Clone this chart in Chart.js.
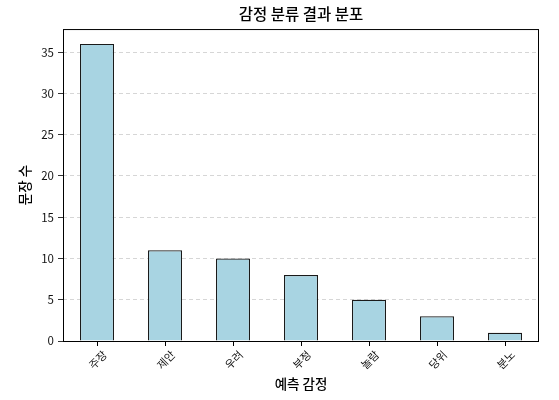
<!DOCTYPE html>
<html>
<head>
<meta charset="utf-8">
<script src="https://cdn.jsdelivr.net/npm/chart.js@4"></script>
<style>
  html, body { margin: 0; padding: 0; background: #fff; }
  #wrap { width: 559px; height: 400px; }
</style>
</head>
<body>
<div id="wrap"><canvas id="chart" width="559" height="400"></canvas></div>
<script>
// Data
const categories = ['주장', '제안', '우려', '부정', '놀람', '당위', '분노'];
const counts = [36, 11, 10, 8, 5, 3, 1];
const yTicks = [0, 5, 10, 15, 20, 25, 30, 35];

const FONT = '"Noto Sans CJK KR", "Noto Sans", sans-serif';

// Box round the plot area (all four spines)
const frame = {
    id: 'frame',
    afterDatasetsDraw(chart) {
        const { ctx, chartArea: a } = chart;
        ctx.save();
        ctx.strokeStyle = '#000';
        ctx.lineWidth = 1;
        ctx.strokeRect(a.left + 0.5, a.top + 0.5, a.right - a.left - 1, a.bottom - a.top);
        ctx.restore();
    }
};

new Chart(document.getElementById('chart'), {
    type: 'bar',
    data: {
        labels: categories,
        datasets: [{
            data: counts,
            backgroundColor: '#a8d4e2',
            borderColor: '#1a1a1a',
            borderWidth: 1.2,
            barPercentage: 0.5,
            categoryPercentage: 1
        }]
    },
    options: {
        responsive: false,
        animation: false,
        devicePixelRatio: 1,
        layout: { padding: { left: 0, right: 20, top: 0, bottom: 0 } },
        plugins: {
            legend: { display: false },
            tooltip: { enabled: false },
            title: {
                display: true,
                fullSize: false,
                text: '감정 분류 결과 분포',
                color: '#000',
                font: { family: FONT, size: 15.5, weight: 500, lineHeight: 1.1 },
                padding: { top: 6, bottom: 6 }
            }
        },
        scales: {
            x: {
                offset: true,
                grid: {
                    display: true,
                    drawOnChartArea: false,
                    drawTicks: true,
                    offset: false,
                    tickLength: 5,
                    tickColor: '#000'
                },
                border: { display: false },
                ticks: {
                    color: '#111',
                    font: { family: FONT, size: 11 },
                    minRotation: 45,
                    maxRotation: 45,
                    labelOffset: 8,
                    padding: 2
                },
                title: {
                    display: true,
                    text: '예측 감정',
                    color: '#000',
                    font: { family: FONT, size: 13.5, weight: 500 },
                    padding: { top: 0, bottom: 8 }
                },
                afterFit(scale) { scale.height = 59; }
            },
            y: {
                min: 0,
                max: 37.8,
                grid: {
                    color: '#cccccc',
                    lineWidth: 0.8,
                    tickColor: '#000',
                    tickLength: 5
                },
                border: { display: false, dash: [4, 3] },
                ticks: {
                    color: '#111',
                    font: { family: FONT, size: 11.5 },
                    padding: 4
                },
                afterBuildTicks(scale) {
                    scale.ticks = yTicks.map(v => ({ value: v }));
                },
                title: {
                    display: true,
                    text: '문장 수',
                    color: '#000',
                    font: { family: FONT, size: 13.5, weight: 500 },
                    padding: { top: 17, bottom: 0 }
                },
                afterFit(scale) { scale.width = 63; }
            }
        }
    },
    plugins: [frame]
});
</script>
</body>
</html>
